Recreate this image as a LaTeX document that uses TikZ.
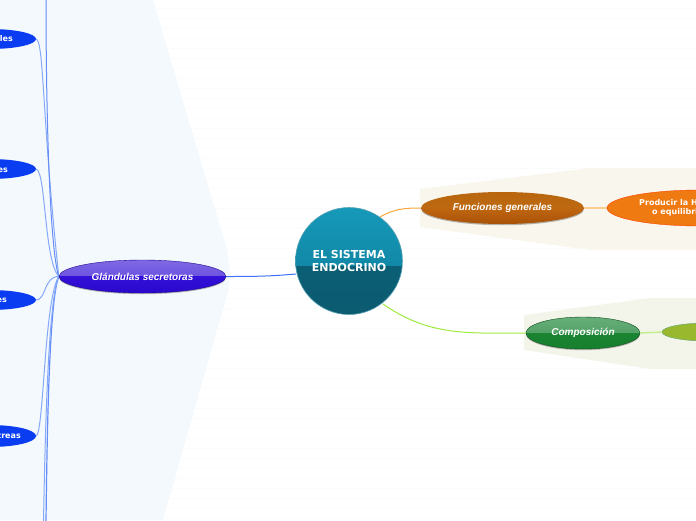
\documentclass[tikz,border=0pt]{standalone}
\usepackage{fontspec}
\setmainfont{Liberation Sans}
\newfontfamily\dejafont{DejaVu Sans}
\usetikzlibrary{shapes.geometric,shadows,backgrounds}
\definecolor{bandblue}{HTML}{F3F9FD}
\definecolor{bandorange}{HTML}{F9F6EC}
\definecolor{bandgreen}{HTML}{F2F4E8}
\definecolor{stripe}{HTML}{FBFBFB}
\definecolor{linkblue}{HTML}{3F70F5}
\definecolor{linkpale}{HTML}{85A8FA}
\definecolor{linkorange}{HTML}{F7A83A}
\definecolor{linkpaleorange}{HTML}{FBCF90}
\definecolor{linkgreen}{HTML}{9CEB3C}
\definecolor{linkpalegreen}{HTML}{C4F08C}
\definecolor{leafblue}{HTML}{0A3DF2}
\definecolor{violetA}{HTML}{7F68E4}
\definecolor{violetB}{HTML}{5B3FDC}
\definecolor{violetC}{HTML}{3410D8}
\definecolor{violetD}{HTML}{2A08CC}
\definecolor{brownA}{HTML}{B8660F}
\definecolor{brownB}{HTML}{C46C12}
\definecolor{brownC}{HTML}{BF6610}
\definecolor{brownD}{HTML}{A85208}
\definecolor{greenA}{HTML}{68AE7A}
\definecolor{greenB}{HTML}{3F9655}
\definecolor{greenC}{HTML}{1A8433}
\definecolor{greenD}{HTML}{17802E}
\definecolor{tealA}{HTML}{1699BA}
\definecolor{tealB}{HTML}{0E7A96}
\definecolor{tealC}{HTML}{0B5F75}
\definecolor{tealD}{HTML}{0B5A70}
\definecolor{orangeFill}{HTML}{EF7A12}
\definecolor{oliveFill}{HTML}{9AB82E}
\tikzset{
  shade soft/.style={drop shadow={shadow xshift=0pt,shadow yshift=-1.2pt,opacity=.4,fill=black!70}},
  twotone/.style n args={4}{path picture={
    \shade[top color=#1,bottom color=#2] (path picture bounding box.north west) rectangle (path picture bounding box.east);
    \shade[top color=#3,bottom color=#4] (path picture bounding box.west) rectangle (path picture bounding box.south east);}},
  twotonelow/.style n args={4}{path picture={
    \shade[top color=#1,bottom color=#2] (path picture bounding box.north west) rectangle ([yshift=-5pt]path picture bounding box.east);
    \shade[top color=#3,bottom color=#4] ([yshift=-5pt]path picture bounding box.west) rectangle (path picture bounding box.south east);}},
  topic/.style={ellipse,inner sep=0pt,text=white,font=\fontsize{10}{11}\selectfont\bfseries\itshape,shade soft},
  leaf/.style={ellipse,inner sep=0pt,fill=leafblue,minimum width=92pt,minimum height=20pt},
  leaftext/.style={text=white,font=\dejafont\fontsize{8}{9}\selectfont\bfseries,inner sep=0pt,anchor=east},
  band/.style={draw=none,opacity=.92},
  wire/.style={line width=1pt},
  paleline/.style={line width=1pt,linkpale},
}
\begin{document}
\begin{tikzpicture}[x=1pt,y=-1pt]
\useasboundingbox (0,0) rectangle (696,520);
\clip (0,0) rectangle (696,520);

\node[topic,minimum width=167pt,minimum height=33pt,twotone={violetA}{violetB}{violetC}{violetD},draw=violetD!70!black,line width=.4pt]
  (glandulas) at (142.5,276.5) {Glándulas secretoras};
\node[topic,minimum width=163pt,minimum height=32pt,twotone={brownA}{brownB}{brownC}{brownD}]
  (funciones) at (502.5,208) {Funciones generales};
\node[topic,minimum width=114pt,minimum height=32pt,twotone={greenA}{greenB}{greenC}{greenD},draw=greenD!60!black,line width=.4pt]
  (composicion) at (583,333) {Composición};
\node[ellipse,inner sep=0pt,minimum width=186pt,minimum height=36pt,fill=orangeFill,
  draw=red!50!orange,line width=.4pt] (producir) at (700,208) {};
\node[anchor=west,inner sep=0pt,text=white,align=left,font=\dejafont\fontsize{8}{8.6}\selectfont\bfseries]
  (producirtext) at (639,208) {Producir la H\\\hspace{13pt}o equilibri};
\node[ellipse,inner sep=0pt,minimum width=90pt,minimum height=18pt,fill=oliveFill,draw=greenD!70,line width=.4pt]
  (hoja) at (707,332) {};

\node[circle,minimum size=107pt,inner sep=0pt,draw=tealB!70!white,line width=.6pt,twotonelow={tealA}{tealB}{tealC}{tealD},
  text=white,align=center,font=\dejafont\fontsize{11}{13}\selectfont\bfseries,text depth=0pt]
  (central) at (349,261) {EL SISTEMA\\ENDOCRINO};

\node[leaf] (n1) at (-10,39) {};
\node[leaf] (n2) at (-10,169) {};
\node[leaf] (n3) at (-10,300) {};
\node[leaf,minimum height=22pt] (n4) at (-10,436) {};
\node[leaftext] (t1) at (13,38.5) {les};
\node[leaftext] (t2) at (8,170) {es};
\node[leaftext] (t3) at (7,300.5) {es};
\node[leaftext] (t4) at (21,436) {treas};

\coordinate (topexit) at (46,-2);
\coordinate (bottomexit) at (43.5,522);
\coordinate (bottomexitb) at (46,522);
\coordinate (centralwest) at (296,274);
\coordinate (centralne) at (380,217);
\coordinate (centralse) at (383,304);

\begin{pgfonlayer}{background}
  \foreach \k in {0,...,51} {
    \draw[stripe,line width=1pt] (0,8+10*\k) -- (696,8+10*\k);
  }
  \fill[bandblue,band] (0,0) -- (153,0) -- (226,246) .. controls (230,258) and (230,282) .. (228,292) -- (163,520) -- (0,520) -- cycle;
  \fill[bandorange,band] (420,189) -- (590,168) -- (696,168) -- (696,250) -- (590,250) -- (420,227) -- cycle;
  \fill[bandgreen,band] (524,315) -- (650,298) -- (696,298) -- (696,369) -- (650,369) -- (524,350) -- cycle;

  \draw[wire,linkblue] (centralwest) to[out=185,in=0] (glandulas.east);
  \draw[wire,linkorange] (centralne) to[out=30,in=180] (funciones.west);
  \draw[wire,linkgreen] (centralse) to[out=-35,in=180] (composicion.west);
  \draw[line width=1.4pt,linkpaleorange] (funciones.east) -- (producir.west);
  \draw[line width=1.4pt,linkpalegreen] (composicion.east) -- (hoja.west);

  \draw[paleline] (n1.east) .. controls (44,41) and (42,120) .. (glandulas.west);
  \draw[paleline] (n2.east) .. controls (46,172) and (44,260) .. (glandulas.west);
  \draw[paleline] (n3.east) .. controls (46,300) and (44,276) .. (glandulas.west);
  \draw[paleline] (n4.east) .. controls (44,432) and (44,300) .. (glandulas.west);
  \draw[wire,linkblue!80] (topexit) .. controls (46,120) and (50,250) .. (glandulas.west);
  \draw[line width=1.2pt,linkblue!80] (bottomexitb) .. controls (47,440) and (49,300) .. (glandulas.west);
  \draw[paleline] (bottomexit) .. controls (45,440) and (48,300) .. (glandulas.west);
\end{pgfonlayer}
\end{tikzpicture}
\end{document}
